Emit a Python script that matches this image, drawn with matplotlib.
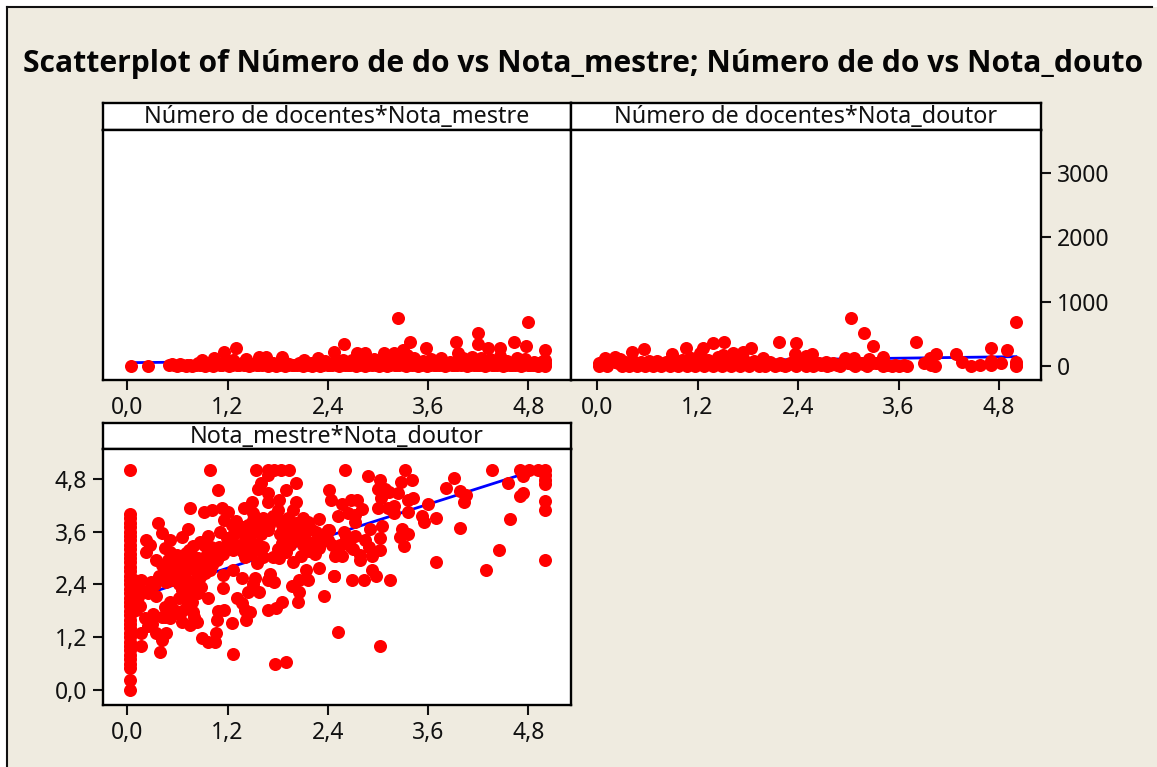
import numpy as np
import matplotlib
matplotlib.use('Agg')
import matplotlib.pyplot as plt
from matplotlib.lines import Line2D
from matplotlib.patches import Rectangle

W, H = 1157, 767
FONT = ['Noto Sans', 'DejaVu Sans']
plt.rcParams['font.family'] = FONT

title = 'Scatterplot of Número de do vs Nota_mestre; Número de do vs Nota_douto'
panel_titles = ['Número de docentes*Nota_mestre', 'Número de docentes*Nota_doutor', 'Nota_mestre*Nota_doutor']
x_ticks = [0.0, 1.2, 2.4, 3.6, 4.8]
x_tick_labels = ['0,0', '1,2', '2,4', '3,6', '4,8']
y_ticks_doc = [0, 1000, 2000, 3000]
y_ticks_nota = [0.0, 1.2, 2.4, 3.6, 4.8]

# Número de docentes vs Nota_mestre
mestre_doc = [
    (.04, 5), (.25, 5), (.5, 8), (.53, 30), (.6, 3), (.63, 35), (.7, 6), (.75, 12), (.78, 4), (.87, 10), (.9, 93),
    (.93, 6), (.98, 40), (1.03, 5), (1.04, 119), (1.08, 30), (1.13, 8), (1.16, 223), (1.18, 60), (1.22, 5), (1.27, 90),
    (1.3, 285), (1.31, 8), (1.37, 40), (1.42, 104), (1.46, 5), (1.52, 35), (1.57, 8), (1.58, 145), (1.63, 50),
    (1.66, 145), (1.68, 4), (1.73, 40), (1.78, 7), (1.84, 60), (1.85, 145), (1.89, 5), (1.94, 30), (2.0, 8), (2.05, 35),
    (2.1, 5), (2.11, 93), (2.15, 30), (2.21, 6), (2.26, 45), (2.28, 130), (2.31, 5), (2.37, 70), (2.42, 8), (2.47, 223),
    (2.48, 60), (2.53, 5), (2.58, 90), (2.59, 342), (2.64, 8), (2.69, 100), (2.74, 6), (2.75, 197), (2.8, 60), (2.84, 197),
    (2.85, 5), (2.9, 40), (2.95, 110), (3.01, 6), (3.06, 60), (3.07, 197), (3.11, 5), (3.17, 90), (3.19, 197), (3.22, 8),
    (3.24, 751), (3.27, 120), (3.3, 249), (3.33, 6), (3.35, 170), (3.38, 378), (3.43, 130), (3.48, 5), (3.54, 70),
    (3.58, 285), (3.59, 6), (3.64, 110), (3.7, 8), (3.75, 125), (3.8, 6), (3.86, 60), (3.91, 8), (3.93, 378), (3.96, 197),
    (4.02, 130), (4.07, 6), (4.12, 140), (4.18, 8), (4.2, 508), (4.2, 342), (4.23, 130), (4.28, 6), (4.32, 285), (4.34, 110),
    (4.39, 8), (4.44, 60), (4.46, 285), (4.46, 150), (4.5, 5), (4.55, 70), (4.6, 8), (4.63, 378), (4.66, 130), (4.71, 6),
    (4.76, 110), (4.77, 311), (4.8, 689), (4.82, 8), (4.87, 60), (4.92, 5), (4.97, 70), (5.0, 3), (5.0, 40), (5.0, 90),
    (5.0, 249),
    (.56, 12), (.66, 10), (.72, 15), (.82, 8), (.96, 10), (1.01, 12), (1.11, 14), (1.2, 10), (1.25, 20), (1.34, 15), (1.4, 8),
    (1.49, 12), (1.55, 15), (1.61, 10), (1.71, 14), (1.76, 18), (1.81, 10), (1.87, 12), (1.92, 15), (1.97, 10), (2.03, 14),
    (2.08, 8), (2.13, 15), (2.18, 10), (2.24, 15), (2.29, 8), (2.34, 12), (2.4, 15), (2.45, 10), (2.51, 15), (2.56, 8),
    (2.61, 15), (2.67, 8), (2.72, 12), (2.77, 15), (2.83, 10), (2.88, 15), (2.93, 8), (2.98, 14), (3.04, 10), (3.09, 14),
    (3.14, 8), (3.2, 15), (3.25, 10), (3.31, 14), (3.36, 10), (3.41, 15), (3.46, 8), (3.51, 14), (3.57, 10), (3.62, 15),
    (3.67, 10), (3.73, 14), (3.78, 10), (3.83, 14), (3.89, 8), (3.94, 14), (3.99, 10), (4.05, 14), (4.1, 8), (4.15, 14),
    (4.21, 10), (4.26, 14), (4.31, 10), (4.37, 14), (4.42, 8), (4.48, 14), (4.53, 10), (4.58, 14), (4.64, 8), (4.69, 14),
    (4.74, 10), (4.79, 14), (4.85, 8), (4.9, 14), (4.95, 8),
    (.85, 45), (1.0, 50), (1.15, 45), (1.3, 50), (1.45, 45), (1.6, 50), (1.75, 45), (1.9, 50), (2.05, 45), (2.2, 50), (2.35, 45),
    (2.5, 50), (2.65, 45), (2.8, 50), (2.95, 45), (3.1, 50), (3.25, 45), (3.4, 50), (3.55, 45), (3.7, 50), (3.85, 45), (4.0, 50),
    (4.15, 45), (4.3, 50), (4.45, 45), (4.6, 50), (4.75, 45), (4.9, 50),
]
# Número de docentes vs Nota_doutor
doutor_doc = [
    (.02, 5), (.03, 41), (.06, 60), (.1, 119), (.12, 5), (.15, 70), (.21, 135), (.22, 60), (.27, 110), (.3, 5), (.33, 60),
    (.38, 5), (.42, 223), (.43, 70), (.48, 5), (.52, 60), (.56, 259), (.57, 5), (.62, 70), (.67, 5), (.72, 80), (.77, 5),
    (.82, 60), (.87, 5), (.89, 186), (.92, 80), (.97, 5), (1.02, 100), (1.06, 285), (1.07, 5), (1.12, 120), (1.17, 5),
    (1.23, 197), (1.27, 285), (1.28, 5), (1.33, 100), (1.38, 352), (1.39, 5), (1.44, 140), (1.49, 5), (1.51, 171), (1.52, 373),
    (1.55, 80), (1.6, 5), (1.62, 197), (1.66, 100), (1.71, 5), (1.74, 223), (1.77, 70), (1.82, 5), (1.84, 285), (1.88, 70),
    (1.93, 5), (1.98, 119), (2.0, 5), (2.06, 60), (2.12, 5), (2.17, 373), (2.18, 40), (2.24, 5), (2.3, 50), (2.36, 186),
    (2.37, 352), (2.38, 5), (2.44, 70), (2.49, 155), (2.5, 5), (2.57, 186), (2.58, 5), (2.65, 50), (2.73, 67), (2.74, 5),
    (2.82, 40), (2.9, 5), (2.96, 119), (3.0, 40), (3.03, 751), (3.07, 119), (3.08, 5), (3.15, 50), (3.19, 508), (3.22, 5),
    (3.25, 104), (3.29, 311), (3.33, 50), (3.41, 135), (3.42, 5), (3.52, 5), (3.61, 5), (3.7, 5), (3.81, 378), (3.9, 41),
    (3.97, 119), (3.99, 15), (4.03, 0), (4.05, 186), (4.29, 186), (4.36, 67), (4.46, 0), (4.57, 15), (4.7, 15), (4.7, 78),
    (4.7, 285), (4.82, 41), (4.9, 249), (5.0, 689), (5.0, 67), (5.0, 20), (5.0, -5),
    (.18, 80), (.25, 40), (.35, 30), (.4, 60), (.46, 30), (.54, 30), (.6, 30), (.65, 40), (.7, 30), (.75, 40), (.8, 30), (.85, 40),
    (.95, 40), (1.0, 60), (1.05, 40), (1.1, 60), (1.15, 40), (1.2, 60), (1.25, 60), (1.31, 40), (1.36, 60), (1.42, 50), (1.47, 60),
    (1.53, 60), (1.58, 50), (1.64, 60), (1.69, 50), (1.75, 60), (1.8, 50), (1.86, 40), (1.91, 40), (1.96, 40), (2.03, 30), (2.09, 30),
    (2.15, 20), (2.21, 20), (2.27, 20), (2.33, 40), (2.41, 60), (2.47, 40), (2.53, 50), (2.6, 40), (2.68, 20), (2.78, 20), (2.86, 20),
    (2.93, 40), (3.05, 30), (3.12, 40), (3.18, 30), (3.28, 40), (3.37, 40), (3.46, 20), (3.56, 10), (3.66, 8),
]
# Nota_mestre vs Nota_doutor
doutor_mestre = [
    (.03, 5), (.03, 4), (.03, 3.9), (.03, 3.8), (.03, 3.7), (.03, 3.6), (.03, 3.5), (.03, 3.4), (.03, 3.3), (.03, 3.2),
    (.03, 3.1), (.03, 3), (.03, 2.9), (.03, 2.8), (.03, 2.7), (.03, 2.6), (.03, 2.5), (.03, 2.4), (.03, 2.3), (.03, 2.2),
    (.03, 2.1), (.03, 2), (.03, 1.9), (.03, 1.8), (.03, 1.7), (.03, 1.6), (.03, 1.5), (.03, 1.4), (.03, 1.3), (.03, 1.2),
    (.03, 1.1), (.03, 1), (.03, .9), (.03, .8), (.03, .7), (.03, .6), (.03, .5), (.03, .23), (.03, 0), (.99, 5), (1.54, 5),
    (1.68, 5), (1.76, 5), (1.84, 5), (1.94, 5), (1.68, 4.89), (2.02, 4.7), (1.6, 4.7), (1.56, 4.58), (1.09, 4.55),
    (1.9, 4.55), (1.68, 4.47), (1.68, 4.28), (1.82, 4.32), (2.02, 4.28), (1.49, 4.28), (.75, 4.14), (.92, 4.05), (1.02, 4.1),
    (1.13, 4.13), (1.2, 4.05), (1.16, 3.86), (1.4, 4.14), (1.51, 4.02), (1.63, 3.9), (1.8, 4.09), (1.98, 4.09), (1.51, 3.86),
    (1.82, 3.86), (2.02, 3.79), (2.16, 3.83), (2.3, 3.88), (.37, 3.79), (.73, 3.65), (.42, 3.56), (.65, 3.48), (.51, 3.42),
    (.22, 3.42), (.27, 3.3), (.22, 3.14), (.97, 3.5), (.87, 3.37), (.79, 3.27), (.74, 3.18), (1.11, 3.6), (1.27, 3.52),
    (1.19, 3.45), (1.39, 3.71), (1.47, 3.52), (1.55, 3.33), (1.68, 3.64), (1.9, 3.64), (2.04, 3.52), (2.16, 3.37), (2.26, 3.6),
    (2.4, 3.64), (2.32, 3.37), (2.3, 3.22), (.45, 3.24), (.51, 3.14), (.59, 3.07), (.49, 2.95), (.35, 2.95), (.95, 3.1),
    (1.07, 2.95), (1.15, 3.1), (1.27, 3.18), (1.39, 3.14), (1.41, 3.02), (1.55, 2.88), (1.63, 3.03), (1.74, 3.03), (1.82, 3),
    (1.9, 3.14), (1.98, 2.92), (2.08, 3.05), (2.14, 2.74), (2.06, 2.5), (2.16, 2.5), (2.3, 2.78), (2.47, 2.6), (2.5, 3.1),
    (.79, 2.8), (.91, 2.88), (.99, 2.73), (.83, 2.65), (.87, 2.58), (.59, 2.8), (.69, 2.65), (.63, 2.54), (.45, 2.73),
    (.41, 2.58), (.33, 2.42), (.17, 2.5), (1.15, 2.61), (1.14, 2.31), (1.26, 2.73), (1.37, 2.55), (1.53, 2.55), (1.51, 2.42),
    (1.45, 2.23), (1.58, 2.23), (1.71, 2.63), (1.68, 2.5), (1.76, 2.46), (1.97, 2.37), (2.06, 2.23), (2.04, 2), (2.35, 2.14),
    (1.85, 2), (1.78, 1.87), (1.68, 1.82), (.66, 2.27), (.75, 2.35), (.88, 2.35), (.97, 2.1), (.77, 2), (.25, 2.2), (.35, 2.14),
    (.13, 2.12), (.51, 2), (.45, 1.89), (.65, 1.8), (.79, 1.78), (.11, 1.82), (.31, 1.74), (.21, 1.63), (.41, 1.67), (.51, 1.63),
    (.66, 1.55), (.75, 1.48), (.83, 1.55), (1.09, 1.8), (1.16, 1.83), (1.08, 1.59), (1.25, 1.52), (1.31, 2.1), (1.37, 1.97),
    (1.41, 1.82), (1.47, 1.78), (1.42, 1.59), (.29, 1.52), (.35, 1.29), (.46, 1.29), (.41, 1.14), (.17, 1.29), (.17, 1.01),
    (.39, .87), (.9, 1.19), (.97, 1.1), (1.05, 1.1), (1.06, 1.29), (1.27, .82), (1.77, .59), (1.9, .64),
    (2.61, 5), (2.88, 4.86), (3.02, 4.77), (3.32, 5), (3.27, 4.73), (3.41, 4.77), (3, 4.58), (3.08, 4.58), (3.13, 4.5),
    (3.24, 4.47), (2.42, 4.55), (2.44, 4.32), (2.57, 4.23), (2.68, 4.32), (2.75, 4.32), (3.04, 4.36), (3, 4.13), (3.12, 4.13),
    (3.19, 4.18), (3.19, 4.03), (3.36, 4.32), (3.42, 4.36), (3.36, 4.05), (3.6, 4.23), (2.52, 3.95), (2.64, 4.02), (2.81, 4.11),
    (2.72, 3.98), (2.73, 3.81), (2.42, 3.64), (2.59, 3.6), (2.62, 3.48), (2.73, 3.5), (2.9, 3.65), (3.05, 3.73), (2.85, 3.42),
    (3.02, 3.46), (3.29, 3.65), (3.36, 3.55), (3.26, 3.47), (3.31, 3.27), (2.66, 3.27), (2.89, 3.26), (3.02, 3.18), (2.52, 3.2),
    (2.49, 3.05), (2.57, 3.05), (2.78, 3.07), (2.78, 2.95), (2.93, 3.05), (2.93, 2.74), (2.98, 2.6), (2.48, 2.6), (2.69, 2.5),
    (2.83, 2.5), (3.14, 2.5), (3.53, 3.96), (3.55, 3.81), (3.69, 3.92), (3.69, 2.92), (3.81, 4.6), (3.91, 4.83), (3.98, 4.52),
    (4.05, 4.43), (4.03, 4.28), (3.98, 3.69), (4.29, 2.73), (4.45, 3.18), (4.58, 3.88), (4.56, 4.7), (4.7, 4.41), (4.73, 4.47),
    (4.36, 5), (4.7, 5), (4.73, 4.86), (4.81, 5), (4.91, 5), (5, 5), (5, 4.89), (5, 4.77), (5, 4.68), (5, 4.3), (5, 4.09),
    (5, 2.95), (2.52, 1.33), (3.02, 1.01),
    (.6, 2.95), (.68, 2.9), (.72, 2.75), (.52, 2.65), (.55, 2.5), (.38, 2.6), (.46, 2.45), (.42, 2.85), (.5, 2.8), (.28, 2.45),
    (.62, 2.4), (.72, 2.5), (.8, 2.4), (.86, 2.75), (.93, 2.65), (.85, 3.0), (.78, 3.05), (.7, 3.12), (.92, 3.3), (1, 3.25),
    (1.05, 3.1), (1.1, 3.25), (1.18, 3.25), (1.22, 3.32), (1.3, 3.3), (1.35, 3.3), (1.45, 3.25), (1.42, 3.45), (1.33, 3.6),
    (1.44, 3.75), (1.55, 3.65), (1.6, 3.55), (1.48, 3.1), (1.52, 3.18), (1.1, 3.05), (1.02, 2.85), (.93, 2.95), (1.8, 3.2),
    (1.85, 3.35), (1.9, 3.45), (1.95, 3.3), (2, 3.4), (1.83, 3.55), (1.95, 3.75), (1.85, 3.75), (2.1, 3.3), (2.22, 3.3), (2.28, 3.5),
    (2.35, 3.55), (2.12, 3.5), (.62, 2.1), (.7, 2.15), (.78, 2.25), (.85, 2.2), (.72, 1.9), (.8, 1.65), (.6, 1.75), (.55, 1.85),
    (.45, 1.65), (.3, 1.5), (.25, 1.45), (.2, 2.25), (.1, 2.3), (.1, 2.0), (.15, 1.9), (.08, 2.5),
    (1.25, 3.75), (1.3, 3.85), (1.6, 3.8), (1.7, 3.75), (1.75, 3.95), (1.92, 3.9), (2.1, 3.7), (2.2, 3.65), (1.62, 3.25), (2.0, 3.55),
    (2.18, 3.15), (2.25, 3.1), (2.4, 3.4), (2.45, 3.3), (2.55, 3.3), (2.7, 3.2), (2.1, 3.9), (1.25, 3.35),
]
# linhas de regressão (extremos)
fit_x = [0.04, 5.0]
fit_mestre_doc = [52, 110]
fit_doutor_doc = [60, 145]
fit_doutor_mestre = [2.07, 5.07]

BG = '#efebe0'
RED = '#ff0000'
BLUE = '#0000ff'
fig = plt.figure(figsize=(W / 100, H / 100), dpi=100, facecolor='white')
fig.add_artist(Rectangle((7 / W, 0), 1, 1 - 7 / H, transform=fig.transFigure, fc=BG, ec='none', zorder=-5))
fig.add_artist(Line2D([7 / W, 7 / W], [0, 1 - 7 / H], color='#111111', lw=1.5))
fig.add_artist(Line2D([7 / W, 1152 / W], [1 - 7 / H, 1 - 7 / H], color='#111111', lw=1.5))


def box(l, t, r, b):
    return [l / W, 1 - b / H, (r - l) / W, (b - t) / H]


def panel(l, r, t_head, t, b, label, pts, fit_y, xlim, ylim):
    head = fig.add_axes(box(l, t_head, r, t), facecolor='white')
    head.set_xticks([])
    head.set_yticks([])
    head.text(0.5, 0.47, label, ha='center', va='center', fontsize=16.8, color='#111111', transform=head.transAxes)
    ax = fig.add_axes(box(l, t, r, b), facecolor='white')
    pts = np.array(pts)
    ax.plot(fit_x, fit_y, color=BLUE, lw=2, zorder=1)
    ax.scatter(pts[:, 0], pts[:, 1], s=88, color=RED, lw=0, zorder=2)
    ax.set_xlim(xlim)
    ax.set_ylim(ylim)
    ax.set_xticks(x_ticks)
    ax.set_xticklabels(x_tick_labels)
    ax.tick_params(axis='both', length=7.5, width=1.5, labelsize=16.5, colors='#111111', pad=4)
    for a in (head, ax):
        for s in a.spines.values():
            s.set_linewidth(1.7)
            s.set_color('black')
    return ax


ax1 = panel(103, 571, 103, 130, 380, panel_titles[0], mestre_doc, fit_mestre_doc, (-0.29, 5.31), (-218, 3670))
ax1.set_yticks([])
ax2 = panel(571, 1041, 103, 130, 380, panel_titles[1], doutor_doc, fit_doutor_doc, (-0.31, 5.3), (-218, 3670))
ax2.yaxis.tick_right()
ax2.set_yticks(y_ticks_doc)
ax2.set_yticklabels([str(v) for v in y_ticks_doc])
ax3 = panel(103, 571, 423, 449, 705, panel_titles[2], doutor_mestre, fit_doutor_mestre, (-0.29, 5.31), (-0.34, 5.48))
ax3.set_yticks(y_ticks_nota)
ax3.set_yticklabels(x_tick_labels)

fig.text(23 / W, 1 - 64 / H, title, fontsize=21.6, fontweight='bold', family=['Open Sans', 'DejaVu Sans'],
         color='#050505', ha='left', va='center')

fig.savefig('out.png', dpi=100, facecolor='white')
